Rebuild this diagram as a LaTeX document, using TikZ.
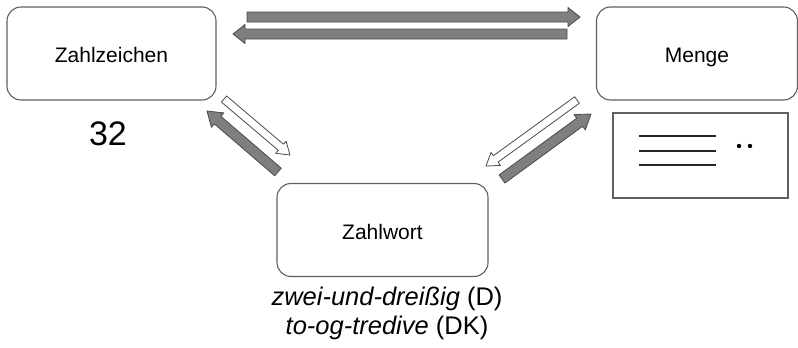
\documentclass[tikz,border=0pt]{standalone}
\usepackage{fontspec}
\setmainfont{Liberation Sans}
\usetikzlibrary{calc}
\definecolor{arrgray}{HTML}{7F7F7F}
\definecolor{arredge}{HTML}{4A4A4A}
\definecolor{boxedge}{HTML}{606060}
\tikzset{
  roundbox/.style={draw=boxedge, line width=1.1pt, rounded corners=14pt, fill=white},
  boxlabel/.style={font=\fontsize{21}{24}\selectfont, text height=18pt, text depth=0pt},
  grayarrow/.style={fill=arrgray, draw=arredge, line width=0.8pt, line join=round},
  whitearrow/.style={fill=white, draw=arredge, line width=0.8pt, line join=round},
  bar/.style={line width=2pt, draw=black!85},
}
% #1 style, #2 tail, #3 tip, #4 body half width, #5 head half width, #6 head length
\newcommand\blockarrow[6]{%
  \coordinate (ba-h) at ($(#3)!#6!(#2)$);
  \draw[#1] ($(#2)!#4!90:(#3)$) -- ($(ba-h)!#4!90:(#3)$) -- ($(ba-h)!#5!90:(#3)$)
    -- (#3) -- ($(ba-h)!#5!-90:(#3)$) -- ($(ba-h)!#4!-90:(#3)$) -- ($(#2)!#4!-90:(#3)$) -- cycle;
}
\begin{document}
\begin{tikzpicture}[x=1pt,y=-1pt]
\useasboundingbox[fill=white] (0,0) rectangle (798,348);

\node[roundbox, minimum width=209pt, minimum height=93pt, boxlabel] (zz) at (111.5,53.5) {Zahlzeichen};
\node[roundbox, minimum width=201pt, minimum height=93pt, boxlabel] (menge) at (697,53.5) {Menge};
\node[roundbox, minimum width=211pt, minimum height=93pt, boxlabel] (zw) at (382.5,230) {Zahlwort};

\node[font=\fontsize{34}{38}\selectfont] (n32) at (108,134) {32};
\node[anchor=base, font=\fontsize{25.5}{28}\selectfont] (de) at (387,305) {\textit{zwei-und-dreißig} (D)};
\node[anchor=base, font=\fontsize{25.5}{28}\selectfont] (dk) at (387,334) {\textit{to-og-tredive} (DK)};

% set picture
\node[draw=boxedge, line width=1.3pt, minimum width=175pt, minimum height=85pt] (set) at (700.5,155.5) {};
\draw[bar] (639,136) -- (716,136);
\draw[bar] (639,151) -- (716,151);
\draw[bar] (639,165) -- (716,165);
\fill[black] (739,146) circle (2.2pt);
\fill[black] (750,146) circle (2.2pt);

% horizontal arrows
\coordinate (t1a) at (247,17);
\coordinate (t1b) at (580,17);
\coordinate (t2a) at (567,34);
\coordinate (t2b) at (233,34);
\blockarrow{grayarrow}{t1a}{t1b}{5pt}{9.5pt}{12pt}
\blockarrow{grayarrow}{t2a}{t2b}{5pt}{9.5pt}{12pt}

% left diagonal arrows
\coordinate (l1a) at (224,99);
\coordinate (l1b) at (290,155);
\coordinate (l2a) at (278,172);
\coordinate (l2b) at (207,111);
\blockarrow{whitearrow}{l1a}{l1b}{4pt}{8pt}{12pt}
\blockarrow{grayarrow}{l2a}{l2b}{5pt}{9.5pt}{14pt}

% right diagonal arrows
\coordinate (r1a) at (577,100);
\coordinate (r1b) at (486,166);
\coordinate (r2a) at (502,179);
\coordinate (r2b) at (591,114);
\blockarrow{whitearrow}{r1a}{r1b}{4pt}{8pt}{12pt}
\blockarrow{grayarrow}{r2a}{r2b}{5pt}{9.5pt}{14pt}
\end{tikzpicture}
\end{document}
